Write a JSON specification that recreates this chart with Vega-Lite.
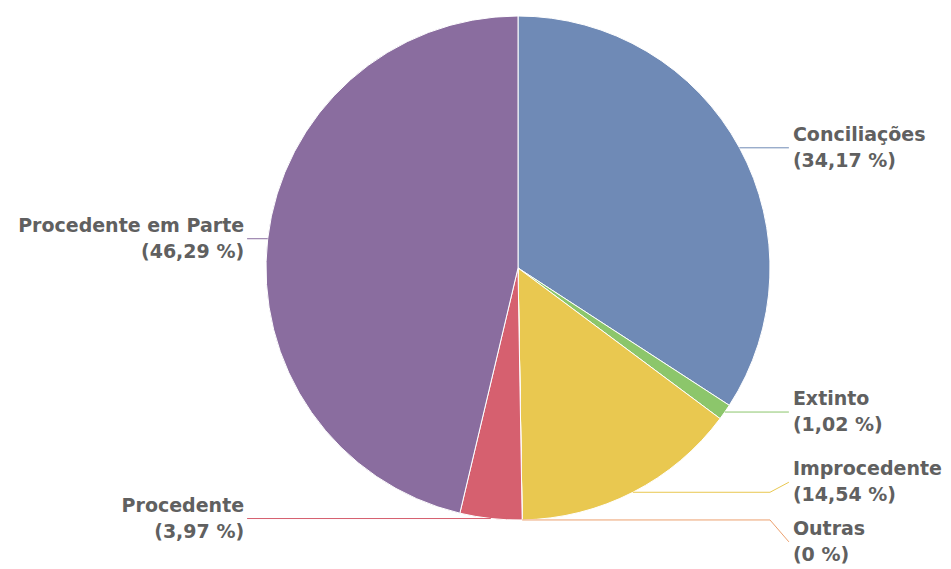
{
  "$schema": "https://vega.github.io/schema/vega-lite/v6.json",
  "autosize": {"type": "none"},
  "width": 866,
  "height": 536,
  "padding": {"left": 85, "top": 0, "right": 0, "bottom": 33},
  "background": "white",
  "config": {"view": {"stroke": null}},
  "data": {
    "values": [
      {"order": 1, "category": "Conciliações", "value": 34.17},
      {"order": 2, "category": "Extinto", "value": 1.02},
      {"order": 3, "category": "Improcedente", "value": 14.54},
      {"order": 4, "category": "Outras", "value": 0},
      {"order": 5, "category": "Procedente", "value": 3.97},
      {"order": 6, "category": "Procedente em Parte", "value": 46.29}
    ]
  },
  "transform": [
    {"joinaggregate": [{"op": "sum", "field": "value", "as": "total"}]},
    {"window": [{"op": "sum", "field": "value", "as": "cum"}], "sort": [{"field": "order"}], "frame": [null, 0]},
    {"calculate": "2*PI*(datum.cum - datum.value/2)/datum.total", "as": "mid"},
    {"calculate": "sin(datum.mid)", "as": "ex"},
    {"calculate": "cos(datum.mid)", "as": "ey"},
    {"calculate": "datum.ex >= 0 ? 1 : -1", "as": "side"},
    {"calculate": "datum.side", "as": "kx"},
    {"calculate": "datum.side*1.075", "as": "lx"},
    {"calculate": "datum.ey + (datum.category === 'Improcedente' ? 0.04 : datum.category === 'Outras' ? -0.087 : 0)", "as": "ly"},
    {"calculate": "[datum.category, '(' + replace(format(datum.value, '.2~f'), '.', ',') + ' %)']", "as": "label"}
  ],
  "layer": [
    {
      "mark": {"type": "arc", "outerRadius": 252, "stroke": "white", "strokeWidth": 1},
      "encoding": {
        "theta": {"field": "value", "type": "quantitative", "stack": true},
        "order": {"field": "order", "type": "quantitative"},
        "color": {
          "field": "category", "type": "nominal", "legend": null,
          "scale": {
            "domain": ["Conciliações", "Extinto", "Improcedente", "Outras", "Procedente", "Procedente em Parte"],
            "range": ["#6f8ab6", "#8cc66b", "#e9c850", "#eca06e", "#d6606f", "#8a6d9f"]
          }
        }
      }
    },
    {
      "mark": {"type": "rule", "strokeWidth": 1},
      "encoding": {
        "x": {"field": "ex", "type": "quantitative", "scale": {"domain": [-1.7183, 1.7183], "nice": false, "zero": false}, "axis": null},
        "x2": {"field": "kx"},
        "y": {"field": "ey", "type": "quantitative", "scale": {"domain": [-1.0635, 1.0635], "nice": false, "zero": false}, "axis": null},
        "color": {"field": "category", "type": "nominal", "legend": null}
      }
    },
    {
      "mark": {"type": "rule", "strokeWidth": 1},
      "encoding": {
        "x": {"field": "kx", "type": "quantitative", "axis": null},
        "x2": {"field": "lx"},
        "y": {"field": "ey", "type": "quantitative", "axis": null},
        "y2": {"field": "ly"},
        "color": {"field": "category", "type": "nominal", "legend": null}
      }
    },
    {
      "transform": [{"filter": "datum.side > 0"}],
      "mark": {"type": "text", "align": "left", "baseline": "middle", "dx": 4, "dy": -13, "font": "DejaVu Sans", "fontSize": 19, "fontWeight": "bold", "lineHeight": 26, "color": "#606060"},
      "encoding": {
        "x": {"field": "lx", "type": "quantitative", "axis": null},
        "y": {"field": "ly", "type": "quantitative", "axis": null},
        "text": {"field": "label"}
      }
    },
    {
      "transform": [{"filter": "datum.side < 0"}],
      "mark": {"type": "text", "align": "right", "baseline": "middle", "dx": -3, "dy": -13, "font": "DejaVu Sans", "fontSize": 19, "fontWeight": "bold", "lineHeight": 26, "color": "#606060"},
      "encoding": {
        "x": {"field": "lx", "type": "quantitative", "axis": null},
        "y": {"field": "ly", "type": "quantitative", "axis": null},
        "text": {"field": "label"}
      }
    }
  ]
}
